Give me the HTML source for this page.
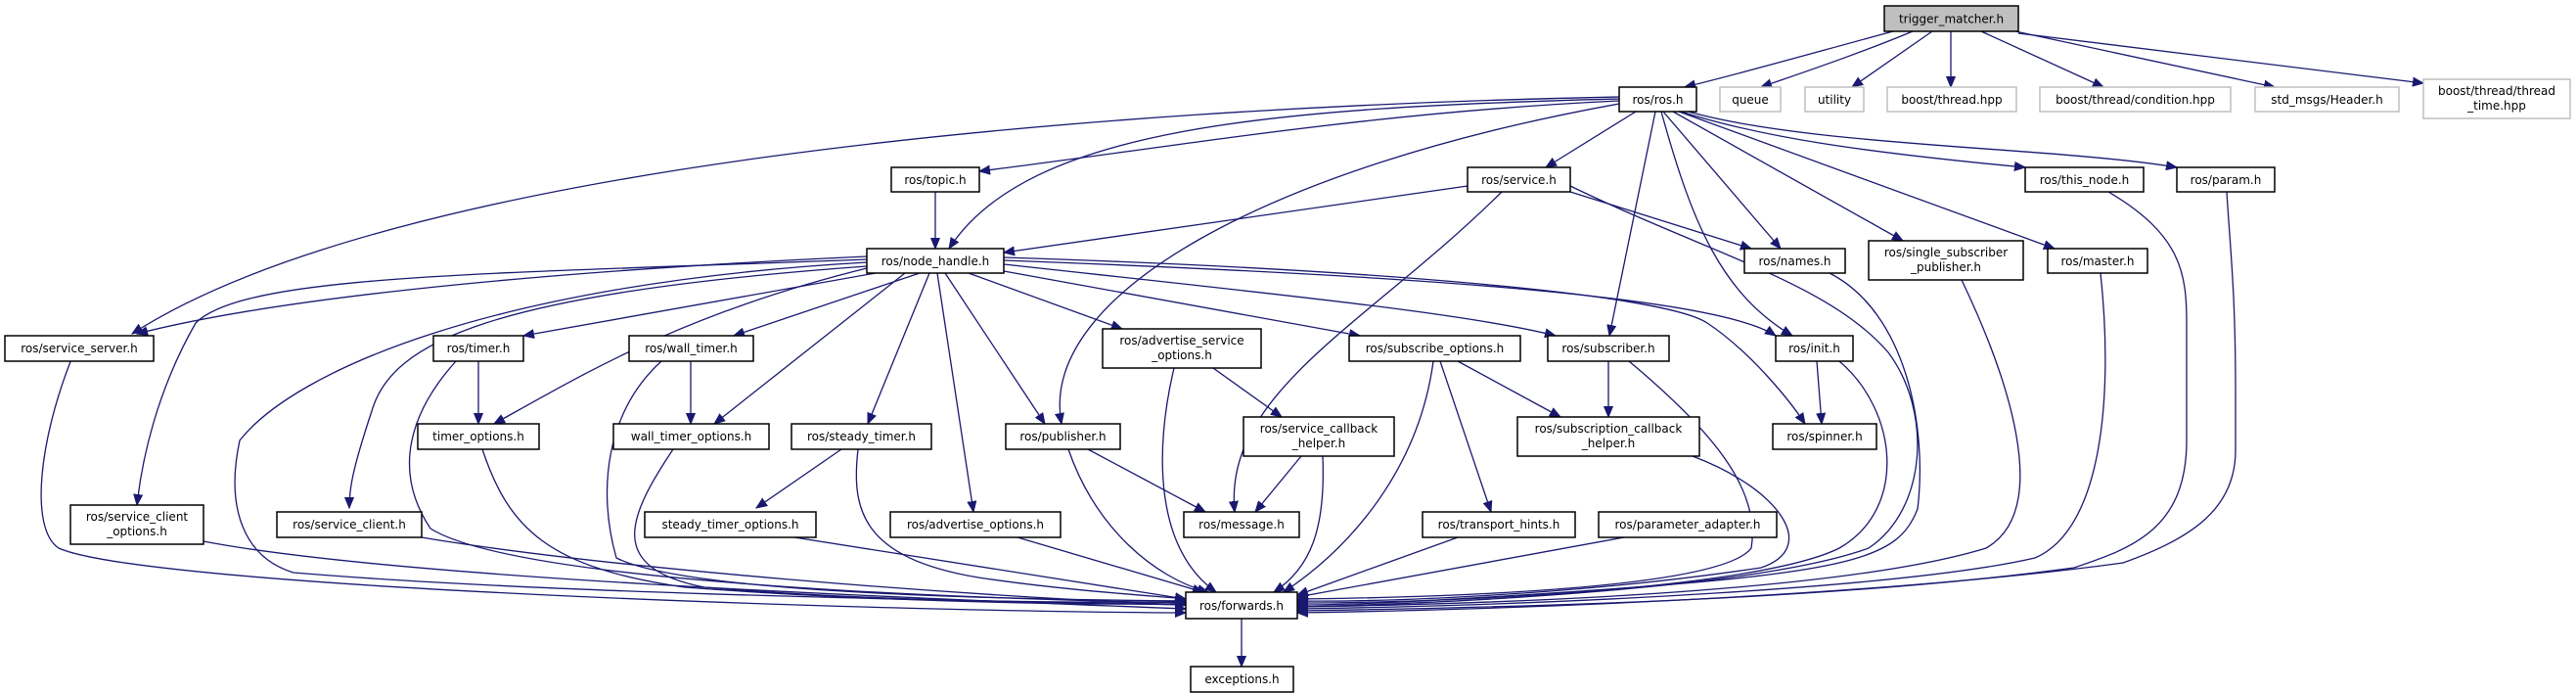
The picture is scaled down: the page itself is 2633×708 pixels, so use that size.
<!DOCTYPE html>
<html><head><meta charset="utf-8"><style>
html,body{margin:0;padding:0;background:#fff;}
svg{display:block}
text{font-family:"DejaVu Sans","Liberation Sans",sans-serif;font-size:12px;fill:#000}
.n{fill:#fff;stroke:#000;stroke-width:1.5}
.g{fill:#fff;stroke:#bfbfbf;stroke-width:1.5}
.e path{fill:none;stroke:#191970;stroke-width:1.3;marker-end:url(#a)}
</style></head><body>
<svg width="2633" height="708" viewBox="0 0 2633 708" xmlns="http://www.w3.org/2000/svg">
<defs><marker id="a" markerUnits="userSpaceOnUse" markerWidth="12" markerHeight="10" refX="11" refY="5" orient="auto"><path d="M0,0.5 L11,5 L0,9.5 z" fill="#191970" stroke="#191970"/></marker></defs>
<g class="e">
<path d="M1935,32 C1850,55 1780,75 1722,89"/>
<path d="M1955,32 C1900,55 1840,75 1800,89"/>
<path d="M1975,32 L1893,89"/>
<path d="M1994,32 L1994,89"/>
<path d="M2025,32 L2150,89"/>
<path d="M2060,32 L2325,89"/>
<path d="M2063,34 L2477,85"/>
<path d="M1655,103 C1400,115 1200,150 1001,175"/>
<path d="M1655,101 C1300,110 1050,130 970,254"/>
<path d="M1655,99 C1100,110 400,170 135,341"/>
<path d="M1655,106 C1300,170 1060,300 1085,433"/>
<path d="M1672,114 L1580,171"/>
<path d="M1692,114 L1645,343"/>
<path d="M1700,114 L1820,254"/>
<path d="M1698,114 C1730,230 1760,300 1832,343"/>
<path d="M1710,114 L1945,246"/>
<path d="M1716,114 L2100,254"/>
<path d="M1718,114 C1800,140 1900,155 2070,171"/>
<path d="M1722,113 C1850,150 2100,150 2225,171"/>
<path d="M956,196 L956,254"/>
<path d="M1500,190 L1026,258"/>
<path d="M1535,196 C1400,330 1250,400 1262,523"/>
<path d="M1605,196 L1790,254"/>
<path d="M1605,190 C1750,260 1870,290 1930,360 C1975,420 1970,520 1910,560 C1800,600 1500,616 1326,620"/>
<path d="M886,262 C600,275 300,300 140,341"/>
<path d="M886,265 C500,280 250,280 200,330 C160,400 145,470 140,516"/>
<path d="M886,268 C500,290 300,380 245,450 C230,520 250,570 300,585 C600,610 1100,615 1212,618"/>
<path d="M886,272 C500,300 400,350 380,420 C360,480 357,500 357,519"/>
<path d="M895,279 L535,343"/>
<path d="M886,274 C700,320 600,380 505,433"/>
<path d="M940,279 L750,343"/>
<path d="M925,279 L730,433"/>
<path d="M950,279 L887,433"/>
<path d="M966,279 L1068,433"/>
<path d="M958,279 L995,523"/>
<path d="M990,279 L1147,336"/>
<path d="M1026,277 L1390,343"/>
<path d="M1026,270 C1300,300 1500,320 1590,343"/>
<path d="M1026,266 C1400,280 1750,300 1815,343"/>
<path d="M1026,263 C1400,275 1700,300 1745,330 C1790,360 1830,410 1845,433"/>
<path d="M73,367 C40,450 30,540 60,560 C150,600 900,625 1212,626"/>
<path d="M208,553 C400,590 900,610 1212,622"/>
<path d="M408,545 C600,580 1000,610 1212,618"/>
<path d="M489,369 L489,433"/>
<path d="M466,369 C420,420 400,480 440,540 C520,590 900,610 1212,616"/>
<path d="M493,459 C520,540 560,580 700,600 C900,615 1100,618 1212,617"/>
<path d="M706,369 L706,433"/>
<path d="M676,369 C620,420 610,500 630,570 C700,605 1000,612 1212,614"/>
<path d="M690,456 C640,530 620,580 720,600 C900,615 1100,616 1212,615"/>
<path d="M860,459 L773,519"/>
<path d="M877,459 C870,520 880,570 1000,590 C1100,605 1200,610 1212,612"/>
<path d="M812,549 L1212,612"/>
<path d="M1040,549 L1230,605"/>
<path d="M1112,459 L1232,523"/>
<path d="M1092,459 C1120,540 1180,590 1235,605"/>
<path d="M1240,376 L1310,426"/>
<path d="M1200,376 C1180,460 1180,560 1243,605"/>
<path d="M1330,466 L1283,523"/>
<path d="M1352,466 C1355,540 1340,580 1302,605"/>
<path d="M1490,369 L1595,426"/>
<path d="M1472,369 L1524,523"/>
<path d="M1465,369 C1450,480 1380,560 1312,605"/>
<path d="M1644,369 L1644,426"/>
<path d="M1665,369 C1750,440 1800,500 1790,560 C1760,600 1500,610 1326,612"/>
<path d="M1730,466 C1820,500 1860,560 1800,580 C1600,610 1400,615 1326,614"/>
<path d="M1490,549 L1326,608"/>
<path d="M1660,549 L1326,610"/>
<path d="M1857,369 L1862,433"/>
<path d="M1880,369 C1940,420 1950,520 1880,560 C1800,600 1500,616 1326,616"/>
<path d="M1870,279 C1950,320 1970,440 1960,520 C1940,570 1900,585 1600,605 C1450,615 1380,618 1326,618"/>
<path d="M2005,286 C2050,380 2100,520 2030,560 C1900,600 1600,616 1326,620"/>
<path d="M2147,279 C2160,400 2150,540 2080,570 C1950,600 1600,618 1326,622"/>
<path d="M2155,196 C2230,240 2235,280 2235,330 L2235,450 C2235,540 2180,560 2120,580 C1900,610 1600,620 1326,624"/>
<path d="M2276,196 C2280,260 2285,300 2285,400 L2285,460 C2285,520 2240,550 2170,575 C1950,605 1600,622 1326,626"/>
<path d="M1269,632 L1269,681"/>
</g>
<g>
<rect x="1926" y="6" width="137" height="26" fill="#bfbfbf" stroke="#000" stroke-width="1.5"/><text x="1994.5" y="23.5" text-anchor="middle">trigger_matcher.h</text>
<rect class="n" x="1655" y="89" width="79" height="25"/><text x="1694.5" y="106" text-anchor="middle">ros/ros.h</text>
<rect class="g" x="1758" y="89" width="62" height="25"/><text x="1789" y="106" text-anchor="middle">queue</text>
<rect class="g" x="1845" y="89" width="60" height="25"/><text x="1875" y="106" text-anchor="middle">utility</text>
<rect class="g" x="1929" y="89" width="132" height="25"/><text x="1995" y="106" text-anchor="middle">boost/thread.hpp</text>
<rect class="g" x="2085" y="89" width="195" height="25"/><text x="2182.5" y="106" text-anchor="middle">boost/thread/condition.hpp</text>
<rect class="g" x="2305" y="89" width="147" height="25"/><text x="2378.5" y="106" text-anchor="middle">std_msgs/Header.h</text>
<rect class="g" x="2477" y="81" width="150" height="40"/><text x="2552" y="97" text-anchor="middle">boost/thread/thread</text><text x="2552" y="112" text-anchor="middle">_time.hpp</text>
<rect class="n" x="911" y="171" width="90" height="25"/><text x="956" y="188" text-anchor="middle">ros/topic.h</text>
<rect class="n" x="1500" y="171" width="105" height="25"/><text x="1552.5" y="188" text-anchor="middle">ros/service.h</text>
<rect class="n" x="2070" y="171" width="121" height="25"/><text x="2130.5" y="188" text-anchor="middle">ros/this_node.h</text>
<rect class="n" x="2225" y="171" width="100" height="25"/><text x="2275" y="188" text-anchor="middle">ros/param.h</text>
<rect class="n" x="886" y="254" width="140" height="25"/><text x="956" y="271" text-anchor="middle">ros/node_handle.h</text>
<rect class="n" x="1783" y="254" width="103" height="25"/><text x="1834.5" y="271" text-anchor="middle">ros/names.h</text>
<rect class="n" x="1910" y="246" width="158" height="40"/><text x="1989" y="262" text-anchor="middle">ros/single_subscriber</text><text x="1989" y="277" text-anchor="middle">_publisher.h</text>
<rect class="n" x="2093" y="254" width="102" height="25"/><text x="2144" y="271" text-anchor="middle">ros/master.h</text>
<rect class="n" x="5" y="343" width="152" height="26"/><text x="81" y="360" text-anchor="middle">ros/service_server.h</text>
<rect class="n" x="443" y="343" width="92" height="26"/><text x="489" y="360" text-anchor="middle">ros/timer.h</text>
<rect class="n" x="643" y="343" width="127" height="26"/><text x="706.5" y="360" text-anchor="middle">ros/wall_timer.h</text>
<rect class="n" x="1127" y="336" width="162" height="40"/><text x="1208" y="352" text-anchor="middle">ros/advertise_service</text><text x="1208" y="367" text-anchor="middle">_options.h</text>
<rect class="n" x="1379" y="343" width="175" height="26"/><text x="1466.5" y="360" text-anchor="middle">ros/subscribe_options.h</text>
<rect class="n" x="1582" y="343" width="124" height="26"/><text x="1644" y="360" text-anchor="middle">ros/subscriber.h</text>
<rect class="n" x="1815" y="343" width="79" height="26"/><text x="1854.5" y="360" text-anchor="middle">ros/init.h</text>
<rect class="n" x="427" y="433" width="124" height="26"/><text x="489" y="450" text-anchor="middle">timer_options.h</text>
<rect class="n" x="627" y="433" width="159" height="26"/><text x="706.5" y="450" text-anchor="middle">wall_timer_options.h</text>
<rect class="n" x="809" y="433" width="143" height="26"/><text x="880.5" y="450" text-anchor="middle">ros/steady_timer.h</text>
<rect class="n" x="1028" y="433" width="117" height="26"/><text x="1086.5" y="450" text-anchor="middle">ros/publisher.h</text>
<rect class="n" x="1271" y="426" width="154" height="40"/><text x="1348" y="442" text-anchor="middle">ros/service_callback</text><text x="1348" y="457" text-anchor="middle">_helper.h</text>
<rect class="n" x="1551" y="426" width="186" height="40"/><text x="1644" y="442" text-anchor="middle">ros/subscription_callback</text><text x="1644" y="457" text-anchor="middle">_helper.h</text>
<rect class="n" x="1812" y="433" width="106" height="26"/><text x="1865" y="450" text-anchor="middle">ros/spinner.h</text>
<rect class="n" x="72" y="516" width="136" height="40"/><text x="140" y="532" text-anchor="middle">ros/service_client</text><text x="140" y="547" text-anchor="middle">_options.h</text>
<rect class="n" x="283" y="523" width="148" height="26"/><text x="357" y="540" text-anchor="middle">ros/service_client.h</text>
<rect class="n" x="659" y="523" width="175" height="26"/><text x="746.5" y="540" text-anchor="middle">steady_timer_options.h</text>
<rect class="n" x="910" y="523" width="174" height="26"/><text x="997" y="540" text-anchor="middle">ros/advertise_options.h</text>
<rect class="n" x="1210" y="523" width="118" height="26"/><text x="1269" y="540" text-anchor="middle">ros/message.h</text>
<rect class="n" x="1454" y="523" width="156" height="26"/><text x="1532" y="540" text-anchor="middle">ros/transport_hints.h</text>
<rect class="n" x="1634" y="523" width="182" height="26"/><text x="1725" y="540" text-anchor="middle">ros/parameter_adapter.h</text>
<rect class="n" x="1212" y="605" width="114" height="27"/><text x="1269" y="623" text-anchor="middle">ros/forwards.h</text>
<rect class="n" x="1217" y="681" width="105" height="26"/><text x="1269.5" y="698" text-anchor="middle">exceptions.h</text>
</g>
</svg>
</body></html>
